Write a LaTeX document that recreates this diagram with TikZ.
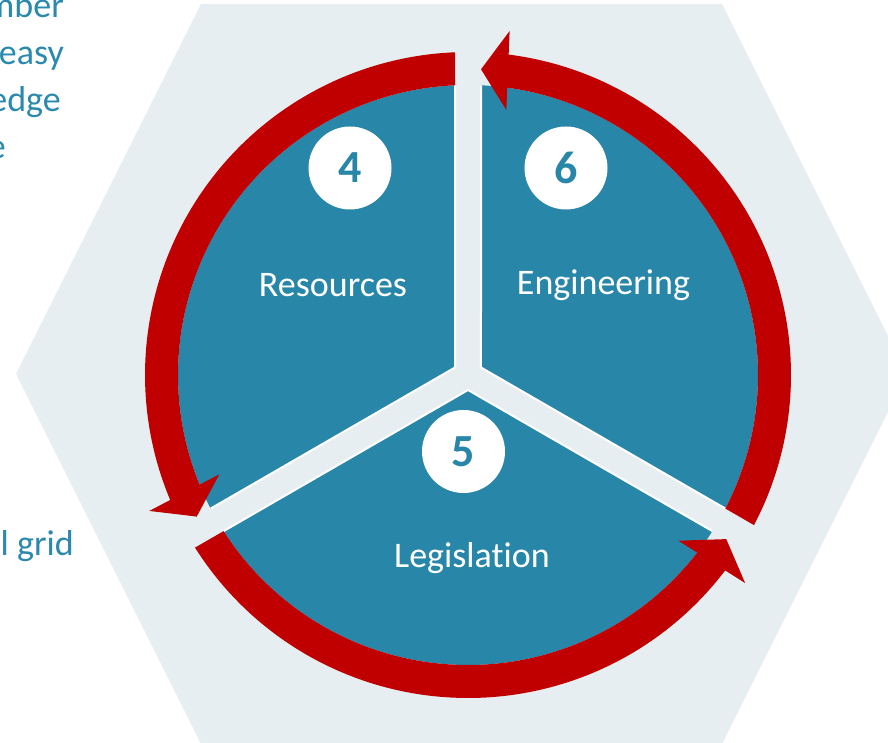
\documentclass[tikz,border=0pt]{standalone}
\usepackage{fontspec}
\setmainfont{Carlito}[Ligatures=NoCommon]
\usetikzlibrary{calc}
\definecolor{secblue}{HTML}{2886A8}
\definecolor{arrred}{HTML}{C00000}
\definecolor{hexbg}{HTML}{E7EEF2}
\definecolor{txtblue}{HTML}{2B89AE}
\begin{document}
\begin{tikzpicture}[x=1pt,y=1pt,
  sector/.style={fill=secblue},
  gapedge/.style={draw=white,line width=2pt},
  redarrow/.style={fill=arrred},
  numcirc/.style={circle,fill=white,minimum size=83pt,inner sep=0pt,text=secblue,font=\fontsize{46}{50}\selectfont\bfseries},
  seclabel/.style={text=white,font=\fontsize{36}{40}\selectfont,inner sep=0pt,anchor=base},
  sidetext/.style={text=txtblue,font=\fontsize{36}{40}\selectfont,inner sep=0pt,anchor=base east}]
\useasboundingbox (0,0) rectangle (888,742);
\clip (0,0) rectangle (888,742);
\fill[hexbg] (201,738) -- (722,738) -- (907,368) -- (722,-2) -- (201,-2) -- (16,368) -- cycle;
\node[sidetext] (t1) at (64,724) {mber};
\node[sidetext] (t2) at (64,677) {easy};
\node[sidetext] (t3) at (61,630) {edge};
\node[sidetext] (t4) at (6,583) {e};
\node[sidetext] (t5) at (74,187) {l grid};
\begin{scope}[shift={(468,367)}]
\foreach \a in {-30,90,210}{
  \pgfmathsetmacro\b{\a+120}
  \pgfmathsetmacro\m{\a+60}
  \pgfmathsetmacro\s{\a+2.57}
  \pgfmathsetmacro\e{\b-2.57}
  \fill[sector] (\m:15) -- (\s:290) arc[start angle=\s,end angle=\e,radius=290] -- cycle;
  \draw[gapedge] (\s:290) -- (\m:15) -- (\e:290);
}
\foreach \a in {-30,90,210}{
  \pgfmathsetmacro\b{\a+120}
  \pgfmathsetmacro\ti{\a+2.57}
  \pgfmathsetmacro\to{\a+2.307}
  \pgfmathsetmacro\p{\b-2.435}
  \pgfmathsetmacro\q{\p-4}
  \pgfmathsetmacro\pa{\p-90}
  \pgfmathsetmacro\pb{\p+180}
  \fill[redarrow] (\ti:290) -- (\to:323) arc[start angle=\to,end angle=\q,radius=323] -- (\q:290) arc[start angle=\q,end angle=\ti,radius=290] -- cycle;
  \fill[redarrow] (\p:306) -- ($(\p:306)+(\pa:27)+(\p:39.5)$) -- ($(\p:306)+(\pa:27)+(\pb:39.5)$) -- cycle;
}
\end{scope}
\node[numcirc] (n4) at (350,574) {4};
\node[numcirc] (n6) at (566,574) {6};
\node[numcirc] (n5) at (463.5,290.5) {5};
\node[seclabel] (res) at (333,445) {Resources};
\node[seclabel] (eng) at (603.5,447) {Engineering};
\node[seclabel] (leg) at (472,175) {Legislation};
\end{tikzpicture}
\end{document}
